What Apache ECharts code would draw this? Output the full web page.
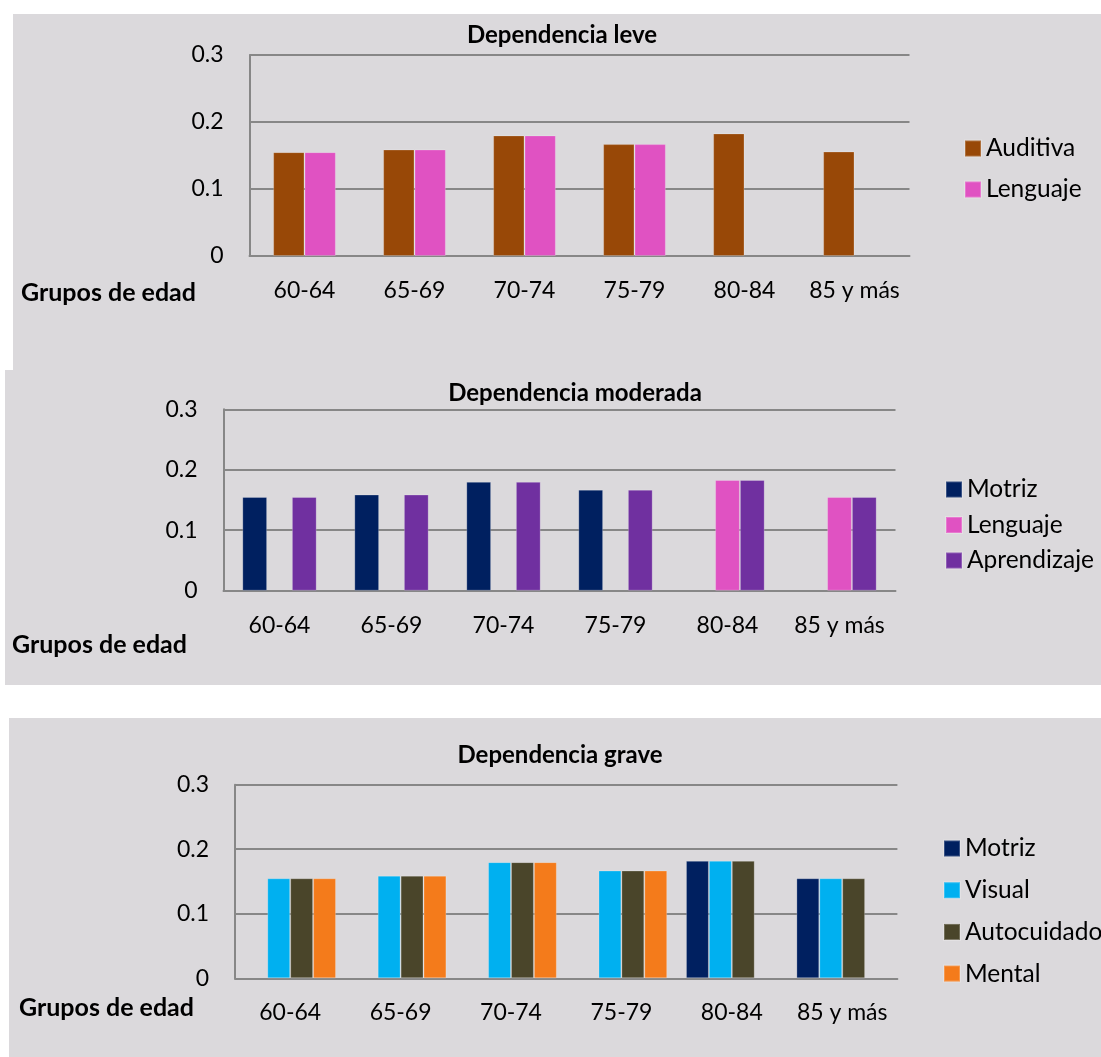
<!DOCTYPE html>
<html>
<head>
<meta charset="utf-8">
<script src="https://cdn.jsdelivr.net/npm/echarts@6/dist/echarts.min.js"></script>
<style>
  html, body { margin: 0; padding: 0; background: #ffffff; }
  #chart { width: 1101px; height: 1057px; }
</style>
</head>
<body>
<div id="chart"></div>
<script>
// ---- data ----
const AGE_GROUPS = ['60-64', '65-69', '70-74', '75-79', '80-84', '85 y más'];
const Y_TICKS = [0, 0.1, 0.2, 0.3];
const X_AXIS_TITLE = 'Grupos de edad';

// Dependencia leve
const LEVE_AUDITIVA = [0.155, 0.159, 0.180, 0.167, 0.183, 0.156];
const LEVE_LENGUAJE = [0.155, 0.159, 0.180, 0.167, null, null];

// Dependencia moderada
const MOD_MOTRIZ = [0.155, 0.159, 0.180, 0.167, null, null];
const MOD_LENGUAJE = [null, null, null, null, 0.183, 0.155];
const MOD_APRENDIZAJE = [0.155, 0.159, 0.180, 0.167, 0.183, 0.155];

// Dependencia grave
const GRAVE_MOTRIZ = [null, null, null, null, 0.182, 0.155];
const GRAVE_VISUAL = [0.155, 0.159, 0.180, 0.167, 0.182, 0.155];
const GRAVE_AUTOCUIDADO = [0.155, 0.159, 0.180, 0.167, 0.182, 0.155];
const GRAVE_MENTAL = [0.155, 0.159, 0.180, 0.167, null, null];

// ---- styling ----
const FONT = 'Lato';
const PANEL_BG = '#dbd9dc';
const LINE_GREY = '#878787';
const C = {
  auditiva: '#984807',
  lenguaje: '#e052c2',
  motriz: '#002060',
  aprendizaje: '#7030a0',
  visual: '#00b0f0',
  autocuidado: '#4a452a',
  mental: '#f47b1b'
};

const PANELS = [
  {
    title: 'Dependencia leve', titleX: 562, titleY: 35,
    bg: [13, 14, 1088, 356],
    grid: { left: 249.5, top: 55, width: 660, height: 201 },
    catGap: '43%',
    axisTitle: { right: 196, y: 293 },
    legend: { left: 964, top: 136, itemGap: 16 },
    series: [
      { name: 'Auditiva', color: C.auditiva, data: LEVE_AUDITIVA },
      { name: 'Lenguaje', color: C.lenguaje, data: LEVE_LENGUAJE }
    ]
  },
  {
    title: 'Dependencia moderada', titleX: 575, titleY: 393,
    bg: [5, 370, 1096, 315],
    grid: { left: 223.5, top: 409.3, width: 672, height: 181.4 },
    catGap: '33.6%',
    axisTitle: { right: 187, y: 645 },
    legend: { left: 945, top: 477, itemGap: 10.5 },
    series: [
      { name: 'Motriz', color: C.motriz, data: MOD_MOTRIZ },
      { name: 'Lenguaje', color: C.lenguaje, data: MOD_LENGUAJE },
      { name: 'Aprendizaje', color: C.aprendizaje, data: MOD_APRENDIZAJE }
    ]
  },
  {
    title: 'Dependencia grave', titleX: 560, titleY: 755,
    bg: [9, 718, 1092, 339],
    grid: { left: 235, top: 784.7, width: 662.4, height: 193.6 },
    catGap: '17%',
    axisTitle: { right: 194, y: 1008 },
    legend: { left: 943, top: 836, itemGap: 16.7 },
    series: [
      { name: 'Motriz', color: C.motriz, data: GRAVE_MOTRIZ },
      { name: 'Visual', color: C.visual, data: GRAVE_VISUAL },
      { name: 'Autocuidado', color: C.autocuidado, data: GRAVE_AUTOCUIDADO },
      { name: 'Mental', color: C.mental, data: GRAVE_MENTAL }
    ]
  }
];

const chart = echarts.init(document.getElementById('chart'), null, { renderer: 'canvas' });

// panel backgrounds plus the bold "Grupos de edad" caption next to each category axis
const graphics = [];
PANELS.forEach(p => {
  graphics.push({
    type: 'rect', silent: true, z: -10,
    shape: { x: p.bg[0], y: p.bg[1], width: p.bg[2], height: p.bg[3] },
    style: { fill: PANEL_BG }
  });
  graphics.push({
    type: 'text', silent: true, z: 10,
    x: p.axisTitle.right, y: p.axisTitle.y,
    style: {
      text: X_AXIS_TITLE, fill: '#000',
      font: 'bold 25px ' + FONT,
      textAlign: 'right', textVerticalAlign: 'middle'
    }
  });
});

const option = {
  backgroundColor: '#ffffff',
  animation: false,
  textStyle: { fontFamily: FONT },
  graphic: graphics,
  title: PANELS.map(p => ({
    text: p.title,
    left: p.titleX, top: p.titleY - 14,
    textAlign: 'center', padding: 0,
    textStyle: { fontFamily: FONT, fontWeight: 'bold', fontSize: 24, lineHeight: 28, color: '#000' }
  })),
  grid: PANELS.map(p => ({
    left: p.grid.left, top: p.grid.top, width: p.grid.width, height: p.grid.height,
    containLabel: false, outerBoundsMode: 'none'
  })),
  xAxis: PANELS.map((p, i) => ({
    type: 'category', gridIndex: i, data: AGE_GROUPS,
    axisTick: { show: false },
    axisLine: { show: true, lineStyle: { color: LINE_GREY, width: 2 } },
    axisLabel: { interval: 0, margin: 23, fontFamily: FONT, fontSize: 23, color: '#000' },
    splitLine: { show: false }
  })),
  yAxis: PANELS.map((p, i) => ({
    type: 'value', gridIndex: i,
    min: Y_TICKS[0], max: Y_TICKS[Y_TICKS.length - 1], interval: Y_TICKS[1] - Y_TICKS[0],
    axisLine: { show: true, lineStyle: { color: LINE_GREY, width: 2 } },
    axisTick: { show: false },
    splitLine: { show: true, lineStyle: { color: LINE_GREY, width: 2 } },
    axisLabel: {
      margin: 26, fontFamily: FONT, fontSize: 23, color: '#000',
      formatter: v => String(Math.round(v * 10) / 10)
    }
  })),
  legend: PANELS.map(p => ({
    orient: 'vertical', left: p.legend.left, top: p.legend.top,
    padding: 0, itemWidth: 16, itemHeight: 16, itemGap: p.legend.itemGap,
    icon: 'rect', selectedMode: false,
    data: p.series.map(s => ({ name: s.name, itemStyle: { color: s.color } })),
    textStyle: { fontFamily: FONT, fontSize: 24.5, lineHeight: 24, color: '#000' }
  })),
  series: PANELS.flatMap((p, i) => p.series.map(s => ({
    type: 'bar', name: s.name, xAxisIndex: i, yAxisIndex: i,
    data: s.data,
    barGap: '0%', barCategoryGap: p.catGap,
    itemStyle: { color: s.color, borderColor: 'rgba(255,255,255,0.22)', borderWidth: 1 },
    emphasis: { disabled: true }
  })))
};

chart.setOption(option);
</script>
</body>
</html>
